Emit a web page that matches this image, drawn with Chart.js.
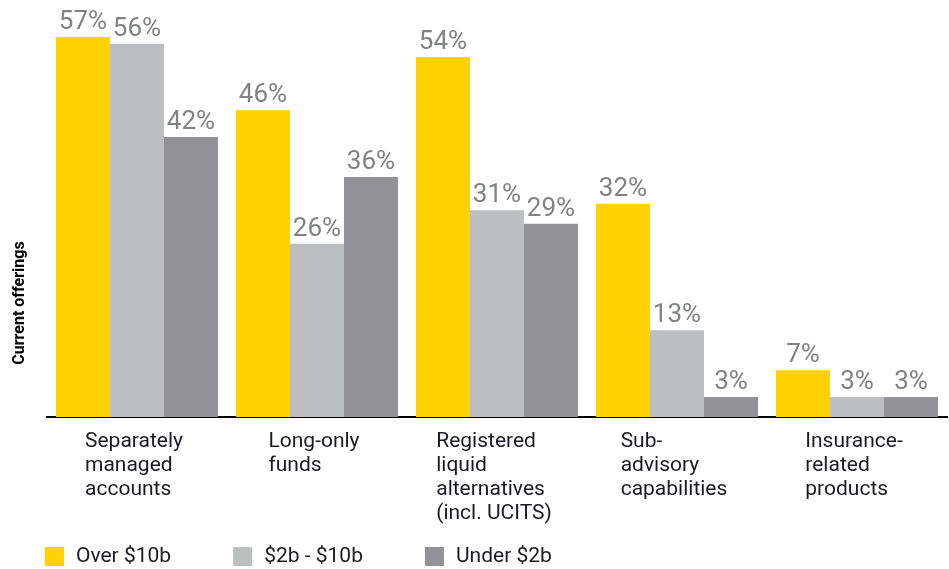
<!DOCTYPE html>
<html>
<head>
<meta charset="utf-8">
<script src="https://cdn.jsdelivr.net/npm/chart.js@4.4.1/dist/chart.umd.min.js"></script>
<style>
  html, body { margin: 0; padding: 0; background: #fff; }
  #wrap { width: 949px; height: 569px; }
</style>
</head>
<body>
<div id="wrap"><canvas id="c" width="949" height="569"></canvas></div>
<script>
const categories = [
  ["Separately", "managed", "accounts"],
  ["Long-only", "funds"],
  ["Registered", "liquid", "alternatives", "(incl. UCITS)"],
  ["Sub-", "advisory", "capabilities"],
  ["Insurance-", "related", "products"]
];
const seriesNames = ["Over $10b", "$2b - $10b", "Under $2b"];
const over10b = [57, 46, 54, 32, 7];
const mid2to10b = [56, 26, 31, 13, 3];
const under2b = [42, 36, 29, 3, 3];
const yTitle = "Current offerings";
const colors = ["#FFD200", "#BDBEC0", "#939397"];

const FONT = "Roboto, 'Liberation Sans', Arial, sans-serif";

const labelsPlugin = {
  id: 'customText',
  afterDatasetsDraw(chart) {
    const ctx = chart.ctx;
    ctx.save();
    // data labels
    ctx.font = "26px " + FONT;
    ctx.fillStyle = "#808285";
    ctx.textAlign = "center";
    ctx.textBaseline = "alphabetic";
    chart.data.datasets.forEach((ds, di) => {
      const meta = chart.getDatasetMeta(di);
      meta.data.forEach((bar, i) => {
        ctx.fillText(ds.data[i] + "%", bar.x, bar.y - 8);
      });
    });
    // x category labels: block centered, lines left-aligned
    const xs = chart.scales.x;
    ctx.font = "21px " + FONT;
    ctx.fillStyle = "#1A1A24";
    ctx.textAlign = "left";
    chart.data.labels.forEach((lines, i) => {
      const cx = xs.getPixelForValue(i);
      const w = Math.max(...lines.map(l => ctx.measureText(l).width));
      const left = cx - w / 2 - 3;
      lines.forEach((line, li) => {
        ctx.fillText(line, left, chart.chartArea.bottom + 30 + li * 24);
      });
    });
    // y title
    ctx.save();
    ctx.font = "bold 16px " + FONT;
    ctx.fillStyle = "#000";
    ctx.textAlign = "center";
    ctx.textBaseline = "middle";
    ctx.translate(20, 303);
    ctx.rotate(-Math.PI / 2);
    ctx.fillText(yTitle, 0, 0);
    ctx.restore();
    // legend
    ctx.font = "21px " + FONT;
    ctx.textAlign = "left";
    ctx.textBaseline = "middle";
    let x = 45;
    const y = 547;
    chart.data.datasets.forEach((ds) => {
      ctx.fillStyle = ds.backgroundColor;
      ctx.fillRect(x, y, 19, 19);
      ctx.fillStyle = "#1A1A24";
      const tx = x + 19 + 12;
      ctx.fillText(ds.label, tx, y + 10);
      x = tx + ctx.measureText(ds.label).width + 62;
    });
    ctx.restore();
  }
};

new Chart(document.getElementById('c'), {
  type: 'bar',
  data: {
    labels: categories,
    datasets: [
      { label: seriesNames[0], data: over10b, backgroundColor: colors[0] },
      { label: seriesNames[1], data: mid2to10b, backgroundColor: colors[1] },
      { label: seriesNames[2], data: under2b, backgroundColor: colors[2] }
    ]
  },
  options: {
    responsive: false,
    animation: false,
    layout: { padding: { left: 47, right: 2, top: 17, bottom: 152 } },
    datasets: { bar: { categoryPercentage: 0.9, barPercentage: 1.0, borderWidth: 0 } },
    plugins: { legend: { display: false }, tooltip: { enabled: false } },
    scales: {
      x: {
        grid: { display: false, drawTicks: false },
        ticks: { display: false },
        border: { display: true, color: "#000", width: 2 }
      },
      y: {
        display: false,
        min: 0,
        max: 60
      }
    }
  },
  plugins: [labelsPlugin]
});
</script>
</body>
</html>
